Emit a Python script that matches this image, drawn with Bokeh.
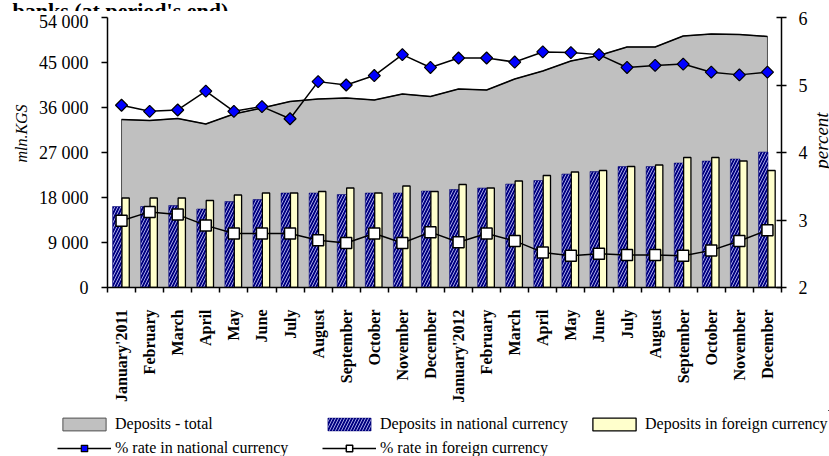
import math
from bokeh.plotting import figure
from bokeh.layouts import column, row
from bokeh.models import Range1d, LinearAxis, FixedTicker, Legend, LegendItem, Label
from bokeh.embed import file_html
from bokeh.resources import INLINE

months = ["January'2011", "February", "March", "April", "May", "June", "July",
          "August", "September", "October", "November", "December",
          "January'2012", "February", "March", "April", "May", "June", "July",
          "August", "September", "October", "November", "December"]

deposits_total = [33600, 33400, 33800, 32700, 34700, 35900, 37200, 37700, 37900, 37500, 38700, 38200,
                  39700, 39500, 41700, 43300, 45300, 46400, 48100, 48100, 50300, 50700, 50600, 50200]
deposits_national = [16200, 16200, 16400, 15700, 17200, 17600, 18900, 18900, 18600, 18900, 18900, 19300,
                     19600, 19900, 20700, 21400, 22700, 23200, 24200, 24200, 24900, 25300, 25700, 27100]
deposits_foreign = [17900, 17900, 17900, 17400, 18500, 18900, 18900, 19200, 19900, 18900, 20300, 19200,
                    20600, 19900, 21300, 22400, 23100, 23400, 24200, 24500, 26000, 26000, 25300, 23400]
rate_national = [4.70, 4.61, 4.63, 4.91, 4.61, 4.68, 4.50, 5.05, 5.00, 5.14, 5.45, 5.26,
                 5.40, 5.40, 5.34, 5.49, 5.48, 5.45, 5.26, 5.29, 5.31, 5.19, 5.15, 5.19]
rate_foreign = [2.99, 3.12, 3.08, 2.92, 2.80, 2.80, 2.80, 2.70, 2.66, 2.80, 2.66, 2.82,
                2.67, 2.80, 2.69, 2.52, 2.47, 2.50, 2.48, 2.48, 2.47, 2.55, 2.69, 2.85]

left_ticks = [0, 9000, 18000, 27000, 36000, 45000, 54000]
right_ticks = [2, 3, 4, 5, 6]

title_text = "banks (at period's end)"
left_label = "mln.KGS"
right_label = "percent"
legend_labels = ["Deposits - total", "Deposits in national currency", "Deposits in foreign currency",
                 "% rate in national currency", "% rate in foreign currency"]

SERIF = "Liberation Serif"

# styles
area_style = dict(fill_color="#C0C0C0", line_color="#505050", line_width=1)
nat_style = dict(fill_color="#000080", line_color="#000070", line_width=0.5,
                 hatch_pattern="/", hatch_color="#d0d0ff", hatch_alpha=0.8, hatch_scale=6, hatch_weight=1)
for_style = dict(fill_color="#FFFFCC", line_color="black", line_width=1.3)
rate_line_style = dict(line_color="black", line_width=1.5)
nat_marker_style = dict(marker="square", angle=math.pi / 4, size=8.5,
                        fill_color="#0000FF", line_color="black", line_width=1.2)
for_marker_style = dict(marker="square", size=11, fill_color="white", line_color="black", line_width=1.5)


def blank(w, h, xr=(0, 1), yr=(0, 1)):
    f = figure(width=w, height=h, x_range=Range1d(*xr), y_range=Range1d(*yr),
               output_backend="svg", toolbar_location=None,
               x_axis_location=None, y_axis_location=None,
               min_border=0, min_border_left=0, min_border_right=0, min_border_top=0, min_border_bottom=0,
               background_fill_color="white", border_fill_color="white", outline_line_color=None)
    f.grid.visible = False
    return f


n = len(months)
xc = [i + 0.5 for i in range(n)]
x_nat = [i + 0.35 for i in range(n)]
x_for = [i + 0.645 for i in range(n)]
area_x = [xc[0]] + xc + [xc[-1]]
area_y = [0] + deposits_total + [0]

# ---------------- main chart ----------------
p = figure(width=783, height=399, x_range=Range1d(0, n), y_range=Range1d(0, 54000),
           output_backend="svg", toolbar_location=None,
           min_border_left=77, min_border_right=32, min_border_top=6, min_border_bottom=123,
           background_fill_color="white", border_fill_color="white", outline_line_color=None)
p.grid.visible = False

p.patch(area_x, area_y, **area_style)
p.line(xc, deposits_total, line_color="black", line_width=1.5)

p.vbar(x=x_nat, top=deposits_national, width=0.34, bottom=0, **nat_style)
p.vbar(x=x_for, top=deposits_foreign, width=0.26, bottom=0, **for_style)

p.extra_y_ranges = {"pct": Range1d(2, 6)}
p.line(xc, rate_national, y_range_name="pct", **rate_line_style)
p.scatter(xc, rate_national, y_range_name="pct", **nat_marker_style)
p.line(xc, rate_foreign, y_range_name="pct", **rate_line_style)
p.scatter(xc, rate_foreign, y_range_name="pct", **for_marker_style)

xa = p.xaxis[0]
xa.ticker = FixedTicker(ticks=xc, minor_ticks=list(range(n + 1)))
xa.major_label_overrides = {x: m for x, m in zip(xc, months)}
xa.major_tick_out = 0
xa.major_tick_in = 0
xa.minor_tick_out = 5
xa.minor_tick_in = 0
xa.minor_tick_line_color = "black"
xa.minor_tick_line_width = 1.5
xa.axis_line_color = "black"
xa.axis_line_width = 1.5
xa.major_label_orientation = math.pi / 2
xa.major_label_standoff = 17
xa.major_label_text_font = SERIF
xa.major_label_text_font_style = "bold"
xa.major_label_text_font_size = "16px"
xa.major_label_text_color = "black"

ya = p.yaxis[0]
ya.ticker = FixedTicker(ticks=left_ticks, minor_ticks=[])
ya.major_label_overrides = {t: "{:,}".format(t).replace(",", " ") for t in left_ticks}
ya.major_tick_out = 6
ya.major_tick_in = 0
ya.major_tick_line_color = "black"
ya.major_tick_line_width = 1.5
ya.axis_line_color = "black"
ya.axis_line_width = 1.5
ya.major_label_standoff = 13
ya.major_label_text_font = SERIF
ya.major_label_text_font_size = "18px"
ya.major_label_text_color = "black"

ra = LinearAxis(y_range_name="pct", ticker=FixedTicker(ticks=right_ticks, minor_ticks=[]))
ra.major_tick_out = 5
ra.major_tick_in = 5
ra.major_tick_line_color = "black"
ra.major_tick_line_width = 1.5
ra.axis_line_color = "black"
ra.axis_line_width = 1.5
ra.major_label_standoff = 12
ra.major_label_text_font = SERIF
ra.major_label_text_font_size = "18px"
ra.major_label_text_color = "black"
p.add_layout(ra, "right")

# ---------------- title strip (text cut at top like the reference) ----------------
ft = blank(829, 11)
ft.add_layout(Label(x=12, y=2, x_units="screen", y_units="screen", text=title_text,
                    text_font=SERIF, text_font_style="bold", text_font_size="22px",
                    text_align="left", text_baseline="alphabetic", text_color="black"))

# ---------------- side strips for axis titles (frames align with main frame) ----------------
fl = blank(30, 399)
fl.add_layout(Label(x=21, y=154, x_units="screen", y_units="screen", text=left_label,
                    angle=math.pi / 2, text_font=SERIF, text_font_style="italic", text_font_size="16px",
                    text_align="center", text_baseline="middle", text_color="black"))
fr = blank(16, 399)
fr.add_layout(Label(x=8, y=147, x_units="screen", y_units="screen", text=right_label,
                    angle=math.pi / 2, text_font=SERIF, text_font_style="italic", text_font_size="19px",
                    text_align="center", text_baseline="middle", text_color="black"))

# ---------------- legend strip (proxy renderers lie outside its visible ranges) ----------------
fg = blank(829, 46, xr=(-2, -1), yr=(-2, -1))
g_total = fg.patch(area_x, area_y, **area_style)
g_nat = fg.vbar(x=x_nat, top=deposits_national, width=0.34, bottom=0, **nat_style)
g_for = fg.vbar(x=x_for, top=deposits_foreign, width=0.26, bottom=0, **for_style)
g_ln = fg.line(xc, rate_national, **rate_line_style)
g_sn = fg.scatter(xc, rate_national, **nat_marker_style)
g_lf = fg.line(xc, rate_foreign, **rate_line_style)
g_sf = fg.scatter(xc, rate_foreign, **for_marker_style)
legend = Legend(items=[
    LegendItem(label=legend_labels[0], renderers=[g_total]),
    LegendItem(label=legend_labels[1], renderers=[g_nat]),
    LegendItem(label=legend_labels[2], renderers=[g_for]),
    LegendItem(label=legend_labels[3], renderers=[g_ln, g_sn]),
    LegendItem(label=legend_labels[4], renderers=[g_lf, g_sf]),
], location=(57, -1), orientation="horizontal", ncols=3,
    glyph_width=54, glyph_height=16, label_width=201, label_height=18, label_standoff=4,
    spacing=6, padding=0, margin=0, border_line_alpha=0, background_fill_alpha=0,
    label_text_font=SERIF, label_text_font_size="16px", label_text_color="black",
    label_text_baseline="middle")
fg.add_layout(legend, "center")

layout = column(ft, row(fl, p, fr, spacing=0), fg, spacing=0)
open("out.html", "w").write(file_html(layout, INLINE))
